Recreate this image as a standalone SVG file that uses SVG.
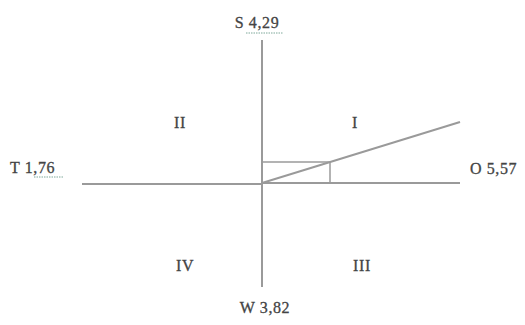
<svg xmlns="http://www.w3.org/2000/svg" width="525" height="325" viewBox="0 0 525 325">
<style>
.ax{stroke:#9a9a9a;stroke-width:2;fill:none}
.thin{stroke:#9a9a9a;stroke-width:1.5;fill:none}
.lb{font-family:"Liberation Serif",serif;font-size:16px;letter-spacing:0.6px;fill:#444;stroke:#444;stroke-width:0.3}
.ul{stroke:#7fa89a;stroke-width:1;stroke-dasharray:1.5 1}
</style>
<rect width="525" height="325" fill="#ffffff"/>
<g id="connectors">
<line class="ax" x1="262" y1="40" x2="262" y2="287"/>
<line class="ax" x1="82" y1="184" x2="262" y2="184"/>
<line class="ax" x1="262" y1="183" x2="460" y2="183"/>
<line class="ax" x1="262" y1="183" x2="460" y2="122"/>
<polyline class="thin" points="262,162 330,162 330,183"/>
</g>
<g id="S"><text class="lb" x="257" y="28" text-anchor="middle">S 4,29</text><line class="ul" x1="246" y1="33" x2="283" y2="33"/></g>
<g id="T"><text class="lb" x="10" y="173">T 1,76</text><line class="ul" x1="34" y1="177" x2="63" y2="177"/></g>
<g id="O"><text class="lb" x="470" y="174">O 5,57</text></g>
<g id="W"><text class="lb" x="265" y="313" text-anchor="middle">W 3,82</text></g>
<g id="Q2"><text class="lb" x="180" y="128" text-anchor="middle">II</text></g>
<g id="Q1"><text class="lb" x="355" y="128" text-anchor="middle">I</text></g>
<g id="Q4"><text class="lb" x="185" y="271" text-anchor="middle">IV</text></g>
<g id="Q3"><text class="lb" x="362" y="271" text-anchor="middle">III</text></g>
</svg>
